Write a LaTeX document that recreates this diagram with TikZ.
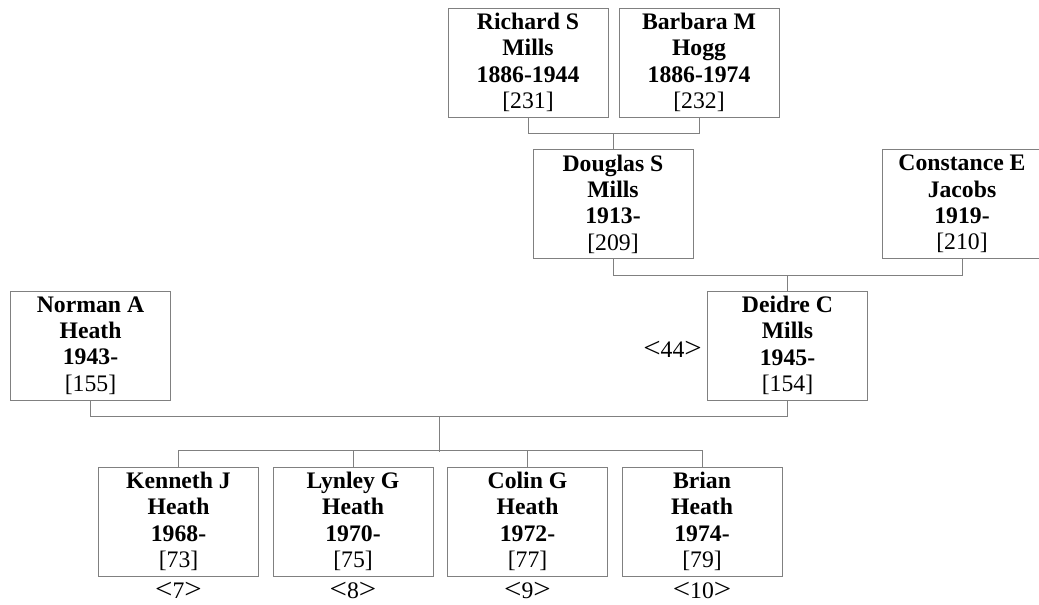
\documentclass[tikz,border=0pt]{standalone}
\usepackage{fontspec}
\usepackage{graphicx}
\setmainfont{Liberation Serif}
\usetikzlibrary{positioning,calc}
\definecolor{linegray}{HTML}{808080}
\newcommand{\gen}[1]{\scalebox{1.3}[1.2]{<}#1\scalebox{1.3}[1.2]{>}}

\begin{document}
\begin{tikzpicture}[x=1pt, y=-1pt, node distance=13.5pt]
    \tikzstyle{person} = [rectangle, draw=linegray, line width=1pt, minimum width=160pt, minimum height=109pt, inner sep=0pt, align=center, font=\fontsize{23.7pt}{26.3pt}\selectfont]
    \tikzstyle{tag} = [inner sep=0pt, font=\fontsize{23.7pt}{26.3pt}\selectfont]
    \tikzstyle{link} = [draw=linegray, line width=1pt]
    \useasboundingbox (0,0) rectangle (1039,605);

    % grandparents
    \node [person] (richard) at (528,62.5) {\textbf{Richard S}\\\textbf{Mills}\\\textbf{1886-1944}\\{[231]}};
    \node [person, right=10pt of richard] (barbara) {\textbf{Barbara M}\\\textbf{Hogg}\\\textbf{1886-1974}\\{[232]}};

    % parents of Deidre
    \node [person] (douglas) at (613,204) {\textbf{Douglas S}\\\textbf{Mills}\\\textbf{1913-}\\{[209]}};
    \node [person] (constance) at (962,204) {\textbf{Constance E}\\\textbf{Jacobs}\\\textbf{1919-}\\{[210]}};

    % couple
    \node [person] (norman) at (90.5,345.5) {\textbf{Norman A}\\\textbf{Heath}\\\textbf{1943-}\\{[155]}};
    \node [person] (deidre) at (787.5,345.5) {\textbf{Deidre C}\\\textbf{Mills}\\\textbf{1945-}\\{[154]}};
    \node [tag, anchor=base east] (t44) at ($(deidre.west)+(-5,11.5)$) {\gen{44}};

    % children
    \node [person] (kenneth) at (178.5,521.5) {\textbf{Kenneth J}\\\textbf{Heath}\\\textbf{1968-}\\{[73]}};
    \node [person, right=of kenneth] (lynley) {\textbf{Lynley G}\\\textbf{Heath}\\\textbf{1970-}\\{[75]}};
    \node [person, right=of lynley] (colin) {\textbf{Colin G}\\\textbf{Heath}\\\textbf{1972-}\\{[77]}};
    \node [person, right=of colin] (brian) {\textbf{Brian}\\\textbf{Heath}\\\textbf{1974-}\\{[79]}};
    \node [tag, anchor=base] (t7) at ($(kenneth.south)+(0,22)$) {\gen{7}};
    \node [tag, anchor=base] (t8) at ($(lynley.south)+(0,22)$) {\gen{8}};
    \node [tag, anchor=base] (t9) at ($(colin.south)+(0,22)$) {\gen{9}};
    \node [tag, anchor=base] (t10) at ($(brian.south)+(0,22)$) {\gen{10}};

    % family lines
    \draw [link] (richard.south) -- ++(0,16) -| (barbara.south);
    \draw [link] (douglas.north) -- ++(0,-16);
    \draw [link] (douglas.south) -- ++(0,16) -| (constance.south);
    \draw [link] (deidre.north) -- ++(0,-16);
    \draw [link] (norman.south) -- ++(0,16) -| (deidre.south);
    \coordinate (fam) at ($(norman.south)!0.5!(deidre.south)+(0,16)$);
    \draw [link] (fam) -- ++(0,35) coordinate (kids);
    \draw [link] (kenneth.north) -- ++(0,-16) -| (brian.north);
    \draw [link] (lynley.north) -- ++(0,-16);
    \draw [link] (colin.north) -- ++(0,-16);
\end{tikzpicture}
\end{document}
